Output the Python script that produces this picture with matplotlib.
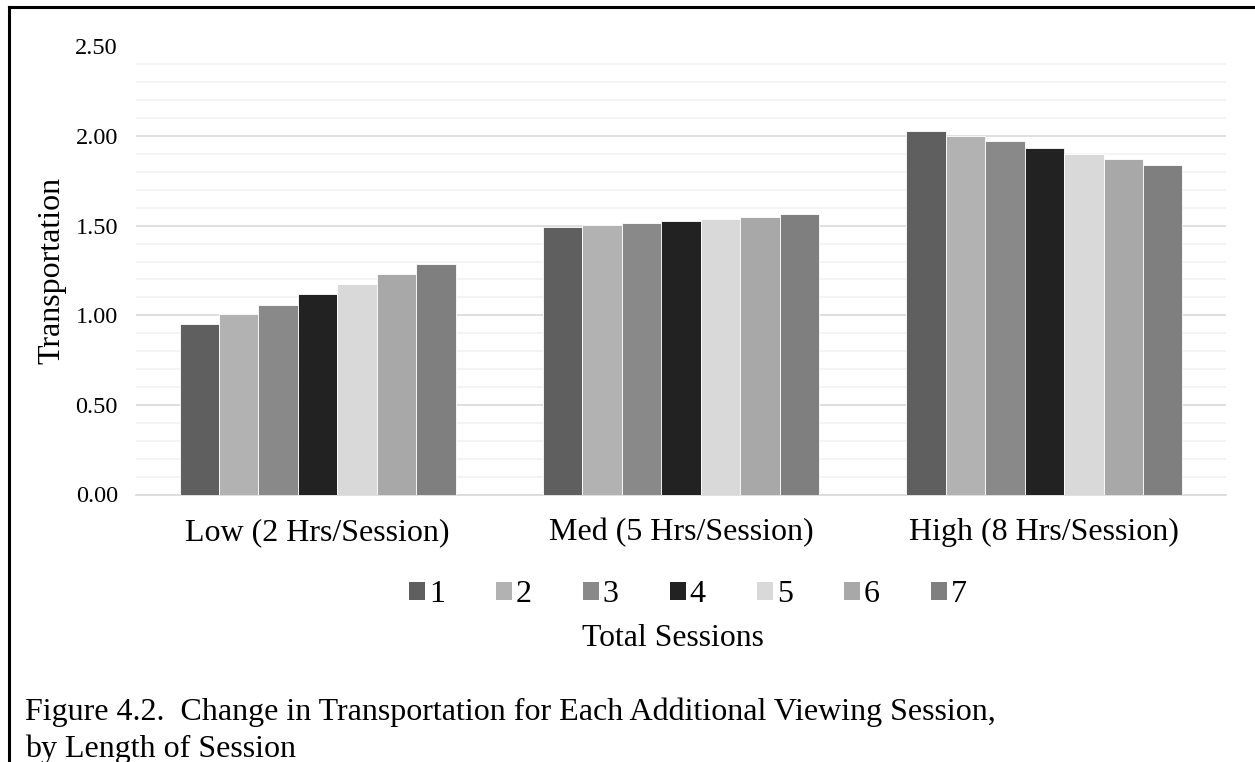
import numpy as np
import matplotlib
matplotlib.use("Agg")
import matplotlib.pyplot as plt
from matplotlib.lines import Line2D
from matplotlib.patches import Patch

# Data
categories = ["Low (2 Hrs/Session)", "Med (5 Hrs/Session)", "High (8 Hrs/Session)"]
sessions = ["1", "2", "3", "4", "5", "6", "7"]
low = [0.95, 1.005, 1.06, 1.12, 1.175, 1.23, 1.285]
med = [1.49, 1.505, 1.515, 1.525, 1.54, 1.55, 1.565]
high = [2.03, 2.00, 1.97, 1.935, 1.90, 1.87, 1.84]
colors = ["#5f5f5f", "#b2b2b2", "#898989", "#222222", "#d9d9d9", "#a8a8a8", "#7f7f7f"]

plt.rcParams['font.family'] = ['Liberation Serif', 'DejaVu Serif']

fig = plt.figure(figsize=(12.55, 7.62), dpi=100)
ax = fig.add_axes([136 / 1255, 1 - 494.5 / 762, 1090 / 1255, 448 / 762])

values = np.array([low, med, high])  # shape (3 categories, 7 sessions)
x = np.arange(len(categories))
group_w = 0.76
bar_w = group_w / len(sessions)
for i, s in enumerate(sessions):
    offs = -group_w / 2 + bar_w * (i + 0.5)
    ax.bar(x + offs, values[:, i], width=bar_w, color=colors[i],
           edgecolor='white', linewidth=0.6, zorder=3)

ax.set_xlim(-0.5, 2.5)
ax.set_ylim(0, 2.5)
ax.set_yticks(np.arange(0, 2.51, 0.5))
ax.set_yticks(np.arange(0, 2.51, 0.1), minor=True)
ax.set_yticklabels([f"{v:.2f}" for v in np.arange(0, 2.51, 0.5)], fontsize=17.5)
ax.grid(axis='y', which='major', color='#d9d9d9', linewidth=1.2, zorder=0)
ax.grid(axis='y', which='minor', color='#f2f2f2', linewidth=1.2, zorder=0)
ax.tick_params(axis='y', which='both', length=0, pad=13)
ax.set_xticks(x)
ax.set_xticklabels(categories, fontsize=23)
ax.tick_params(axis='x', length=0, pad=17)
for side in ['top', 'right', 'left']:
    ax.spines[side].set_visible(False)
ax.spines['bottom'].set_color('#d9d9d9')
ax.spines['bottom'].set_linewidth(1.2)
ax.set_ylabel("Transportation", fontsize=23)
ax.yaxis.set_label_coords(-0.064, 0.5)

handles = [Patch(facecolor=c, edgecolor='none') for c in colors]
fig.legend(handles, sessions, loc='center', bbox_to_anchor=(688 / 1255, 1 - 595 / 762),
           ncol=7, frameon=False, fontsize=23, handlelength=0.5, handleheight=0.5,
           handletextpad=0.12, columnspacing=1.6)
fig.text(673 / 1255, 1 - 639 / 762, "Total Sessions", ha='center', va='center', fontsize=22.9)

fig.text(25 / 1255, 1 - 720 / 762,
         "Figure 4.2.  Change in Transportation for Each Additional Viewing Session,",
         ha='left', va='baseline', fontsize=23)
fig.text(25 / 1255, 1 - 757 / 762, "by Length of Session",
         ha='left', va='baseline', fontsize=23)

# page border on top and left
fig.add_artist(Line2D([9 / 1255, 9 / 1255], [0, 1 - 7 / 762], color='black', linewidth=2.2))
fig.add_artist(Line2D([9 / 1255, 1], [1 - 7 / 762, 1 - 7 / 762], color='black', linewidth=2.2))

fig.savefig("out.png", dpi=100)
